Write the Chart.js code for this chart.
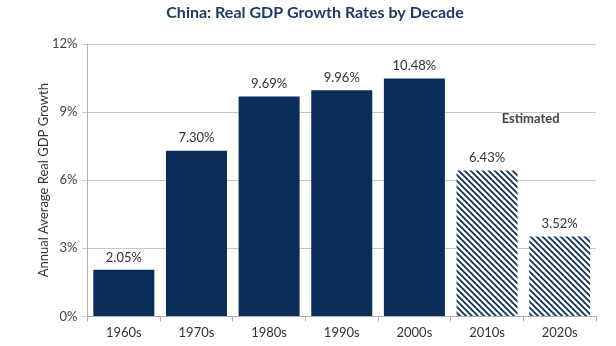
<!DOCTYPE html>
<html><head><meta charset="utf-8">
<script src="https://cdn.jsdelivr.net/npm/chart.js@4/dist/chart.umd.min.js"></script>
<style>html,body{margin:0;padding:0;background:#fff}#wrap{width:616px;height:346px}</style>
</head><body><div id="wrap"><canvas id="c" width="616" height="346"></canvas></div>
<script>
const categories = ["1960s","1970s","1980s","1990s","2000s","2010s","2020s"];
const growth = [2.05, 7.30, 9.69, 9.96, 10.48, 6.43, 3.52];
const estimated = [false, false, false, false, false, true, true];
const yTicks = [0, 3, 6, 9, 12];
const titleText = "China: Real GDP Growth Rates by Decade";
const yTitle = "Annual Average Real GDP Growth";
const noteText = "Estimated";

const NAVY = "#0b2d5a";
function makePattern() {
  const s = 6;
  const p = document.createElement("canvas");
  p.width = s; p.height = s;
  const g = p.getContext("2d");
  g.fillStyle = "#fff"; g.fillRect(0,0,s,s);
  g.strokeStyle = NAVY; g.lineWidth = 1.7;
  g.beginPath();
  g.moveTo(-1,-1); g.lineTo(s+1,s+1);
  g.moveTo(-1,s-1); g.lineTo(1,s+1);
  g.moveTo(s-1,-1); g.lineTo(s+1,1);
  g.stroke();
  return document.getElementById("c").getContext("2d").createPattern(p, "repeat");
}
const pat = makePattern();
const FONT = "Lato, 'Open Sans', sans-serif";

const labelPlugin = {
  id: "labels",
  afterDatasetsDraw(chart) {
    const ctx = chart.ctx;
    const meta = chart.getDatasetMeta(0);
    const xs = chart.scales.x, ys = chart.scales.y;
    ctx.save();
    ctx.font = "13px " + FONT;
    ctx.fillStyle = "#333";
    ctx.textAlign = "center";
    ctx.textBaseline = "bottom";
    meta.data.forEach((bar, i) => {
      ctx.fillText(growth[i].toFixed(2) + "%", bar.x, bar.y - 6);
    });
    ctx.font = "bold 13px " + FONT;
    ctx.fillStyle = "#444";
    ctx.textBaseline = "middle";
    ctx.fillText(noteText, xs.getPixelForValue(5.6), ys.getPixelForValue(8.7));
    // chart title
    ctx.font = "bold 16px " + FONT;
    ctx.fillStyle = "#1f3a66";
    ctx.fillText(titleText, 315, 13);
    // y axis title
    ctx.translate(44, (ys.top + ys.bottom) / 2);
    ctx.rotate(-Math.PI / 2);
    ctx.font = "13px " + FONT;
    ctx.fillStyle = "#333";
    ctx.fillText(yTitle, 0, 0);
    ctx.restore();
  }
};

new Chart(document.getElementById("c"), {
  type: "bar",
  data: {
    labels: categories,
    datasets: [{
      data: growth,
      backgroundColor: estimated.map(e => e ? pat : NAVY),
      borderWidth: 0,
      categoryPercentage: 0.84,
      barPercentage: 1.0
    }]
  },
  options: {
    responsive: false,
    animation: false,
    devicePixelRatio: 1,
    layout: { padding: { left: 47, right: 20, top: 44, bottom: 1 } },
    plugins: {
      legend: { display: false },
      tooltip: { enabled: false },
      title: { display: false }
    },
    scales: {
      y: {
        min: 0, max: 12,
        afterBuildTicks(scale) { scale.ticks = yTicks.map(v => ({ value: v })); },
        ticks: { callback: v => v + "%", color: "#444", font: { family: FONT, size: 13 }, padding: 5 },
        grid: { color: "#c8c8c8", lineWidth: 1, tickLength: 5, drawTicks: true },
        border: { color: "#b0b0b0", width: 1 }
      },
      x: {
        ticks: { color: "#333", font: { family: FONT, size: 13 }, padding: 4 },
        grid: { offset: true, drawOnChartArea: false, drawTicks: true, tickLength: 5, color: "#b0b0b0" },
        border: { color: "#b0b0b0", width: 1 }
      }
    }
  },
  plugins: [labelPlugin]
});
</script></body></html>
